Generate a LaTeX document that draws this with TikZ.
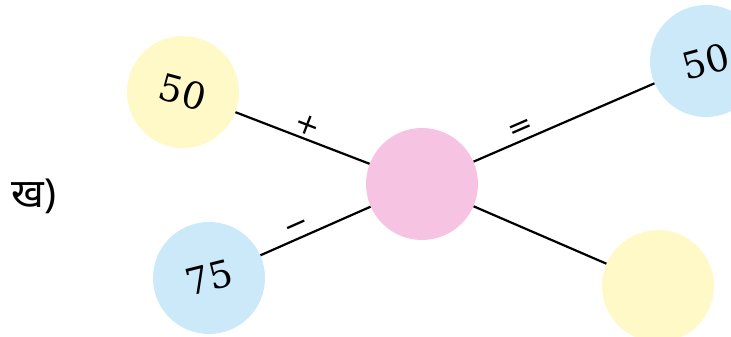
\documentclass[tikz,border=0pt]{standalone}
\usepackage{fontspec}
\newfontfamily\numfont{DejaVu Serif}
\newfontfamily\hindifont[Script=Devanagari]{Noto Sans}
\definecolor{ballyellow}{RGB}{255,249,200}
\definecolor{ballblue}{RGB}{203,233,248}
\definecolor{ballpink}{RGB}{246,196,226}
\begin{document}
\begin{tikzpicture}[x=1pt, y=1pt,
    ball/.style={circle, minimum size=112pt, inner sep=0pt,
      font=\numfont\fontsize{37}{37}\selectfont},
    sign/.style={sloped, above, inner sep=3pt, font=\numfont\fontsize{30}{30}\selectfont}]
  \clip (0,0) rectangle (731,337);

  \node[font=\hindifont\fontsize{40}{40}\selectfont] (tag) at (34,141) {ख)};

  \node[ball, fill=ballyellow] (a) at (183,245) {\rotatebox{-15}{50}};
  \node[ball, fill=ballblue] (b) at (209,59) {\rotatebox{14}{75}};
  \node[ball, fill=ballpink] (p) at (422,153) {};
  \node[ball, fill=ballblue] (c) at (706,276) {\rotatebox{15}{50}};
  \node[ball, fill=ballyellow] (d) at (658,51) {};

  \draw[line width=2.2pt] (a) -- node[sign] {+} (p);
  \draw[line width=2.2pt] (b) -- node[sign, pos=0.375] {−} (p);
  \draw[line width=2.2pt] (p) -- node[sign, pos=0.29] {=} (c);
  \draw[line width=2.2pt] (p) -- (d);
\end{tikzpicture}
\end{document}
